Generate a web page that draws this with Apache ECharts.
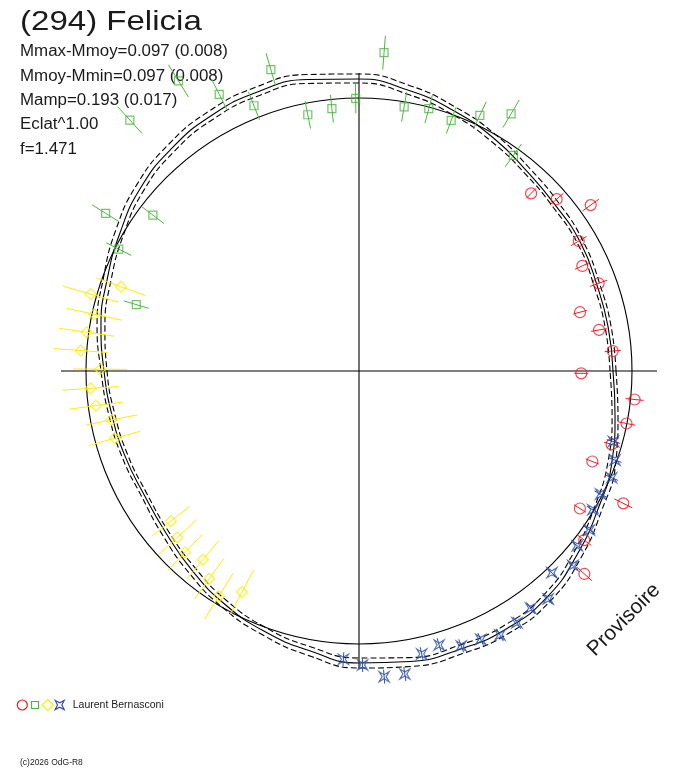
<!DOCTYPE html>
<html><head><meta charset="utf-8">
<script src="https://cdn.jsdelivr.net/npm/echarts@6/dist/echarts.min.js"></script>
<style>html,body{margin:0;padding:0;background:#fff}#c{width:688px;height:768px}</style>
</head><body><div id="c"></div>
<script>
// ---- data (radius in plot units, phase angle in degrees) ----
const curvePhase = [0,10,20,30,40,50,60,70,80,90,100,110,120,130,140,150,160,170,180,190,200,210,220,230,240,250,260,270,280,290,300,310,320,330,340,350,360];
const modelR   = [254,253,253,256,257,261,269,277,285,292,296,297,295,291,285,276,268,262,255,251,249,248,252,260,269,277,284,292,295,296,297,294,285,276,269,260,254];
const modelHiR = [257,256,256,259,261,265,273,281,290,297,301,302,300,296,290,281,272,266,258,254,252,251,256,264,273,281,289,297,300,301,302,299,290,280,273,263,257];
const modelLoR = [251,250,250,253,254,258,265,273,281,288,292,293,291,287,281,272,264,258,252,248,246,245,249,256,265,273,280,287,291,292,293,290,281,272,265,257,251];
const refRadius = 273;
const axisHalf = 298;

const redPhase = [45.9,41.0,35.6,30.6,25.2,20.1,14.9,9.7,4.5,359.4,354.1,348.9,343.8,338.8,333.4,328.1,323.1,318.0];
const redR     = [247.3,261.9,285.0,255.3,246.8,255.2,228.7,243.5,254.5,222.3,277.1,272.6,263.1,250.3,295.6,260.2,281.6,303.3];
const redErr   = [7,9,10,9,8,9,7,8,8,7,9,9,8,7,10,7,9,10];

const greenPhase = [132.4,121.9,116.8,111.6,106.3,101.3,95.9,90.7,85.5,80.3,75.1,69.8,64.7,59.4,54.4,148.1,142.9,153.1,163.4];
const greenR     = [339.8,341.7,310.0,285.3,314.0,261.3,263.7,272.7,319.3,267.9,271.5,267.0,282.8,298.8,265.2,298.4,258.4,269.4,232.4];
const greenErr   = [18,19,17,15,17,14,14,15,17,15,15,14,15,16,14,16,14,14,13];

const yellowPhase = [160.5,164.0,167.9,171.9,175.8,179.6,183.7,187.5,191.2,195.4,218.6,222.5,226.2,230.4,234.2,238.1,242.1];
const yellowR     = [252.5,279.0,270.7,275.0,279.0,258.7,268.9,265.3,252.1,253.1,240.7,246.3,251.3,245.0,256.2,265.2,250.1];
const yellowErr   = [26,29,28,28,27,27,28,27,26,26,24,26,25,25,25,27,25];

const bluePhase = [344.5,340.8,337.1,333.0,329.3,325.4,321.3,317.7,313.7,309.7,305.9,302.1,298.1,294.4,290.4,286.3,282.5,278.6,274.7,270.7,266.9];
const blueR     = [264.0,271.0,274.3,271.2,271.9,279.9,279.6,289.1,279.2,296.2,292.8,297.2,299.3,294.7,293.3,285.5,289.9,306.5,306.7,294.0,288.7];
const blueErr   = [7,7,7,7,7,7,7,7,7,7,7,7,7,7,7,7,7,7,7,7,7];

const titleText = '(294) Felicia';
const infoLines = ['Mmax-Mmoy=0.097 (0.008)','Mmoy-Mmin=0.097 (0.008)','Mamp=0.193 (0.017)','Eclat^1.00','f=1.471'];
const observer = 'Laurent Bernasconi';
const copyright = '(c)2026 OdG-R8';
const stamp = 'Provisoire';

// ---- build ----
const RED='#ee1c24', GREEN='#4cb840', YELLOW='#ffee00', BLUE='#2e50a8', INK='#1a1a1a', LINE='#000';
const starPath = 'path://M-6,-6 L0,-2.4 L6,-6 L2.4,0 L6,6 L0,2.4 L-6,6 L-2.4,0 Z';

function curve(rs){ return curvePhase.map((a,i)=>[rs[i],a]); }
function pts(rs, ph){ return ph.map((a,i)=>[rs[i],a]); }
function errs(rs, ph, es){ return ph.map((a,i)=>[rs[i],a,es[i]]); }
function errRender(color){
  return function(params, api){
    const r=api.value(0), a=api.value(1), e=api.value(2);
    const p1=api.coord([r-e,a]), p2=api.coord([r+e,a]);
    return {type:'line', shape:{x1:p1[0],y1:p1[1],x2:p2[0],y2:p2[1]}, style:{stroke:color,lineWidth:1}};
  };
}
function errSeries(color, rs, ph, es){
  return {type:'custom', coordinateSystem:'polar', renderItem:errRender(color), data:errs(rs,ph,es), z:4, silent:true};
}
function markSeries(color, rs, ph, symbol, size){
  return {type:'scatter', coordinateSystem:'polar', data:pts(rs,ph), symbol:symbol, symbolSize:size,
    itemStyle:{color:'rgba(0,0,0,0)', borderColor:color, borderWidth:1.2}, z:5, silent:true};
}
function lineSeries(data, dashed){
  return {type:'line', coordinateSystem:'polar', data:data, smooth:true, symbol:'none', silent:true,
    lineStyle:{color:LINE, width:1.1, type: dashed ? [6,3] : 'solid'}, z:3};
}

const graphics = [];
graphics.push({type:'text', x:20, y:22, scaleX:1.18, style:{text:titleText, font:'28px "Liberation Sans", Arial, sans-serif', fill:INK, align:'left', verticalAlign:'middle'}});
infoLines.forEach((t,i)=>{
  graphics.push({type:'text', x:20, y:51.7+24.4*i, scaleX:1.056, style:{text:t, font:'16px "Liberation Sans", Arial, sans-serif', fill:INK, align:'left', verticalAlign:'middle'}});
});
graphics.push({type:'circle', shape:{cx:22.3, cy:705, r:5}, style:{fill:'none', stroke:RED, lineWidth:1.2}});
graphics.push({type:'rect', shape:{x:31.5, y:701.5, width:7, height:7}, style:{fill:'none', stroke:GREEN, lineWidth:1.2}});
graphics.push({type:'polygon', shape:{points:[[47.7,699.5],[53.2,705],[47.7,710.5],[42.2,705]]}, style:{fill:'none', stroke:YELLOW, lineWidth:1.2}});
graphics.push({type:'polygon', shape:{points:[[55.2,700.5],[59.7,702.8],[64.2,700.5],[61.9,705],[64.2,709.5],[59.7,707.2],[55.2,709.5],[57.5,705]]}, style:{fill:'none', stroke:BLUE, lineWidth:1.2}});
graphics.push({type:'text', x:72.7, y:705.5, scaleX:1.05, style:{text:observer, font:'10px "Liberation Sans", Arial, sans-serif', fill:INK, align:'left', verticalAlign:'middle'}});
graphics.push({type:'text', x:20, y:763, style:{text:copyright, font:'8.5px "Liberation Sans", Arial, sans-serif', fill:INK, align:'left', verticalAlign:'middle'}});
graphics.push({type:'text', x:624, y:620, rotation:Math.PI/4, style:{text:stamp, font:'21px "Liberation Sans", Arial, sans-serif', fill:INK, align:'center', verticalAlign:'middle'}});

const option = {
  animation:false,
  backgroundColor:'#fff',
  polar:{center:[359,371], radius:546},
  angleAxis:{type:'value', min:0, max:360, startAngle:0, clockwise:false,
    axisLine:{show:false}, axisTick:{show:false}, axisLabel:{show:false}, splitLine:{show:false}},
  radiusAxis:{type:'value', min:0, max:546, interval:refRadius,
    axisLine:{show:false}, axisTick:{show:false}, axisLabel:{show:false},
    splitLine:{show:true, lineStyle:{color:LINE, width:1.1}}},
  series:[
    {type:'line', coordinateSystem:'polar', data:[[axisHalf,0],[axisHalf,180]], symbol:'none', silent:true, lineStyle:{color:LINE,width:1.1}, z:2},
    {type:'line', coordinateSystem:'polar', data:[[axisHalf,90],[axisHalf,270]], symbol:'none', silent:true, lineStyle:{color:LINE,width:1.1}, z:2},
    lineSeries(curve(modelR), false),
    lineSeries(curve(modelHiR), true),
    lineSeries(curve(modelLoR), true),
    errSeries(RED, redR, redPhase, redErr),
    errSeries(GREEN, greenR, greenPhase, greenErr),
    errSeries(YELLOW, yellowR, yellowPhase, yellowErr),
    errSeries(BLUE, blueR, bluePhase, blueErr),
    markSeries(RED, redR, redPhase, 'circle', 11),
    markSeries(GREEN, greenR, greenPhase, 'rect', 8),
    markSeries(YELLOW, yellowR, yellowPhase, 'diamond', 11),
    markSeries(BLUE, blueR, bluePhase, starPath, 10)
  ],
  graphic:graphics
};
const chart = echarts.init(document.getElementById('c'));
chart.setOption(option);
</script>
</body></html>
